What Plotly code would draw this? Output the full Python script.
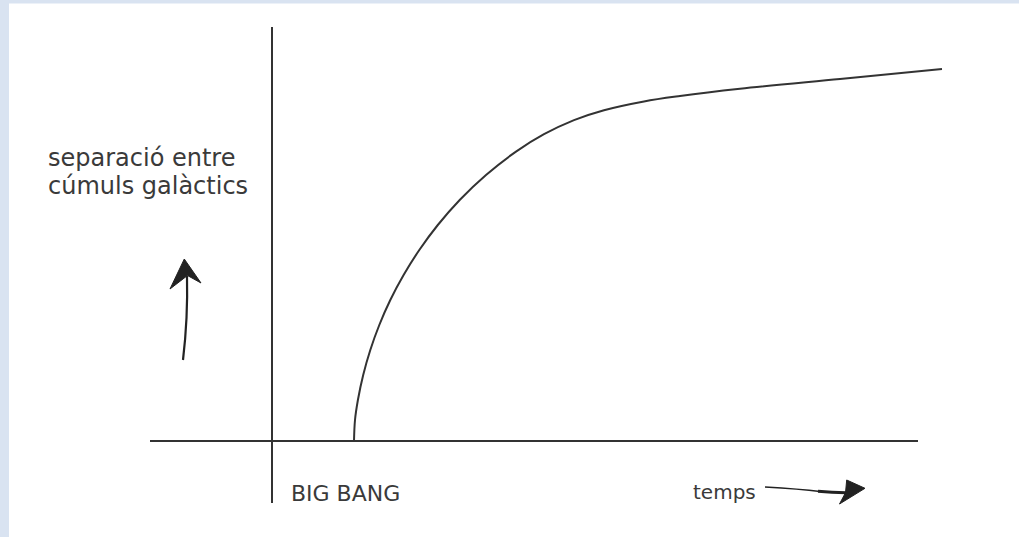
import plotly.graph_objects as go

W, H = 1019, 537
ORIGIN_PX = (272, 441)  # pixel position of the axis crossing

# Curve (time, separation) relative to the axis crossing
time_vals = [82, 83, 85.9, 91.2, 98.3, 107.3, 118.3, 131.6, 147.3, 165.8, 187.7, 214,
             244, 272, 302, 332, 372, 408, 468, 568, 670]
separation_vals = [0, 21, 41, 66, 91, 116, 141, 166, 191, 216, 241, 266,
                   289.4, 306.8, 320.9, 330.8, 339.6, 345, 352.2, 362, 372]

y_label_lines = ["separació entre", "cúmuls galàctics"]
x_label_start = "BIG BANG"
x_label_end = "temps"

INK = "#333333"
TEXT = "#3a3a3a"
BLUE = "#d9e3f1"
FONT = "DejaVu Sans"


def px(x, y):
    return x / W, 1 - y / H


def path(points, close=True):
    s = ""
    for i, (x, y) in enumerate(points):
        a, b = px(x, y)
        s += ("M" if i == 0 else "L") + f"{a:.5f},{b:.5f} "
    return s + ("Z" if close else "")


def qpath(p0, c, p1):
    a0, b0 = px(*p0)
    ac, bc = px(*c)
    a1, b1 = px(*p1)
    return f"M{a0:.5f},{b0:.5f} Q{ac:.5f},{bc:.5f} {a1:.5f},{b1:.5f}"


fig = go.Figure()
fig.add_trace(go.Scatter(
    x=time_vals, y=separation_vals, mode="lines",
    line=dict(color=INK, width=2, shape="spline", smoothing=1.0),
    hoverinfo="skip", showlegend=False, cliponaxis=True,
))

ox, oy = ORIGIN_PX
shapes = []
# light blue frame strips
shapes.append(dict(type="rect", xref="paper", yref="paper", x0=0, x1=9 / W, y0=0, y1=1,
                   fillcolor=BLUE, line=dict(width=0), layer="below"))
shapes.append(dict(type="rect", xref="paper", yref="paper", x0=0, x1=1, y0=1 - 3.5 / H, y1=1,
                   fillcolor=BLUE, line=dict(width=0), layer="below"))
# axes lines
shapes.append(dict(type="line", xref="paper", yref="paper",
                   x0=px(ox, 27)[0], x1=px(ox, 503)[0], y0=px(ox, 27)[1], y1=px(ox, 503)[1],
                   line=dict(color=INK, width=2)))
shapes.append(dict(type="line", xref="paper", yref="paper",
                   x0=px(150, oy)[0], x1=px(918, oy)[0], y0=px(150, oy)[1], y1=px(918, oy)[1],
                   line=dict(color=INK, width=2)))
# up arrow
shapes.append(dict(type="path", xref="paper", yref="paper",
                   path=qpath((183, 360), (188, 318), (187, 276)),
                   line=dict(color="#222222", width=2.2)))
shapes.append(dict(type="path", xref="paper", yref="paper",
                   path=path([(184.3, 259), (201, 283), (187.5, 275.5), (170, 289)]),
                   fillcolor="#222222", line=dict(color="#222222", width=1)))
# right arrow
shapes.append(dict(type="path", xref="paper", yref="paper",
                   path=qpath((765, 487), (800, 489), (820, 491.5)),
                   line=dict(color="#222222", width=1.6)))
shapes.append(dict(type="path", xref="paper", yref="paper",
                   path=qpath((818, 491.3), (832, 492.5), (846, 492.7)),
                   line=dict(color="#222222", width=3)))
shapes.append(dict(type="path", xref="paper", yref="paper",
                   path=path([(846.7, 480), (865, 488.3), (839.5, 504), (845.5, 492.7)]),
                   fillcolor="#222222", line=dict(color="#222222", width=1)))

ann = []


def label(text, x, y, size):
    a, b = px(x, y)
    ann.append(dict(text=text, x=a, y=b, xref="paper", yref="paper", xanchor="left",
                    yanchor="middle", showarrow=False,
                    font=dict(family=FONT, size=size, color=TEXT)))


label(y_label_lines[0], 46, 158, 24)
label(y_label_lines[1], 46, 186, 24)
label(x_label_start, 289, 493, 22)
label(x_label_end, 691, 492, 20)

fig.update_layout(
    width=W, height=H, margin=dict(l=0, r=0, t=0, b=0),
    paper_bgcolor="white", plot_bgcolor="rgba(0,0,0,0)",
    xaxis=dict(range=[-ox, W - ox], visible=False, fixedrange=True),
    yaxis=dict(range=[oy - H, oy], visible=False, fixedrange=True),
    shapes=shapes, annotations=ann,
)
fig.write_html("out.html", config={"displayModeBar": False},
               post_script="document.body.style.margin='0px';")
